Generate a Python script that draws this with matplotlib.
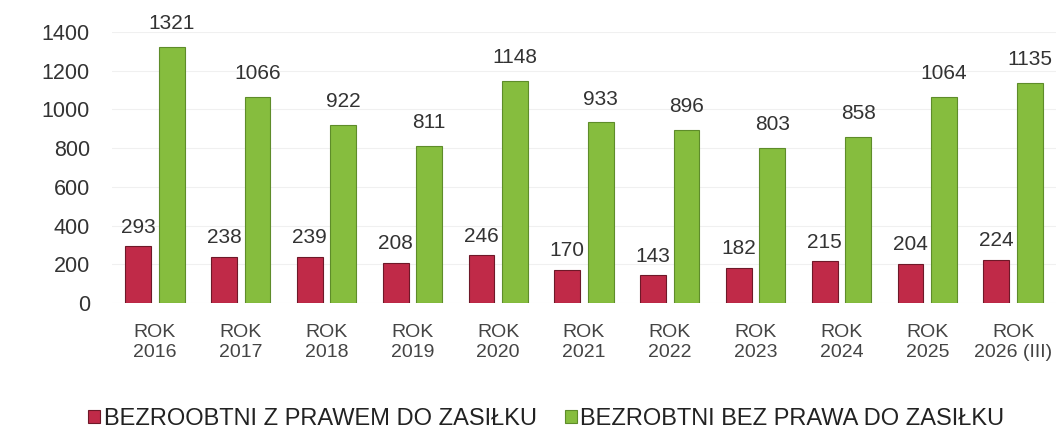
import matplotlib
matplotlib.use("Agg")
import matplotlib.pyplot as plt
import numpy as np

categories = ["ROK\n2016", "ROK\n2017", "ROK\n2018", "ROK\n2019", "ROK\n2020", "ROK\n2021",
              "ROK\n2022", "ROK\n2023", "ROK\n2024", "ROK\n2025", "ROK\n2026 (III)"]
z_prawem = [293, 238, 239, 208, 246, 170, 143, 182, 215, 204, 224]
bez_prawa = [1321, 1066, 922, 811, 1148, 933, 896, 803, 858, 1064, 1135]
series_names = ["BEZROOBTNI Z PRAWEM DO ZASIŁKU", "BEZROBTNI BEZ PRAWA DO ZASIŁKU"]

plt.rcParams['font.family'] = ['Liberation Sans', 'DejaVu Sans']

fig = plt.figure(figsize=(10.61, 4.43), dpi=100)
ax = fig.add_axes([112/1061, 1 - 303/443, (1056-112)/1061, (303-32)/443])

x = np.arange(len(categories))
w = 0.3
off = 0.195
red = '#c02a48'
green = '#86bd3e'
b1 = ax.bar(x - off, z_prawem, w, color=red, edgecolor='#6e1828', linewidth=0.8,
            label=series_names[0], zorder=3)
b2 = ax.bar(x + off, bez_prawa, w, color=green, edgecolor='#5e8c2a', linewidth=0.8,
            label=series_names[1], zorder=3)

for xi, v in zip(x - off, z_prawem):
    ax.annotate(str(v), (xi, v), xytext=(0, 7), textcoords='offset points',
                ha='center', va='bottom', fontsize=15, color='#333333')
for xi, v in zip(x + off, bez_prawa):
    ax.annotate(str(v), (xi, v), xytext=(0, 10), textcoords='offset points',
                ha='center', va='bottom', fontsize=15, color='#333333')

ax.set_xlim(-0.5, len(categories) - 0.5)
ax.set_ylim(0, 1400)
ax.set_yticks(range(0, 1401, 200))
ax.set_xticks(x)
ax.set_xticklabels(categories, fontsize=14, color='#444444', linespacing=1.25)
ax.tick_params(axis='y', labelsize=15.5, colors='#333333', length=0, pad=16)
ax.tick_params(axis='x', length=0, pad=15)
for s in ax.spines.values():
    s.set_visible(False)
ax.grid(axis='y', color='#f0f0f0', linewidth=0.8, zorder=0)
ax.set_axisbelow(True)

fig.legend(handles=[b1, b2], labels=series_names, loc='center', bbox_to_anchor=(0.515, 1 - 419/443),
           ncol=2, frameon=False, fontsize=17, handlelength=0.5, handleheight=0.5,
           handletextpad=0.15, columnspacing=1.2, labelcolor='#222222')

fig.savefig("out.png", dpi=100)
